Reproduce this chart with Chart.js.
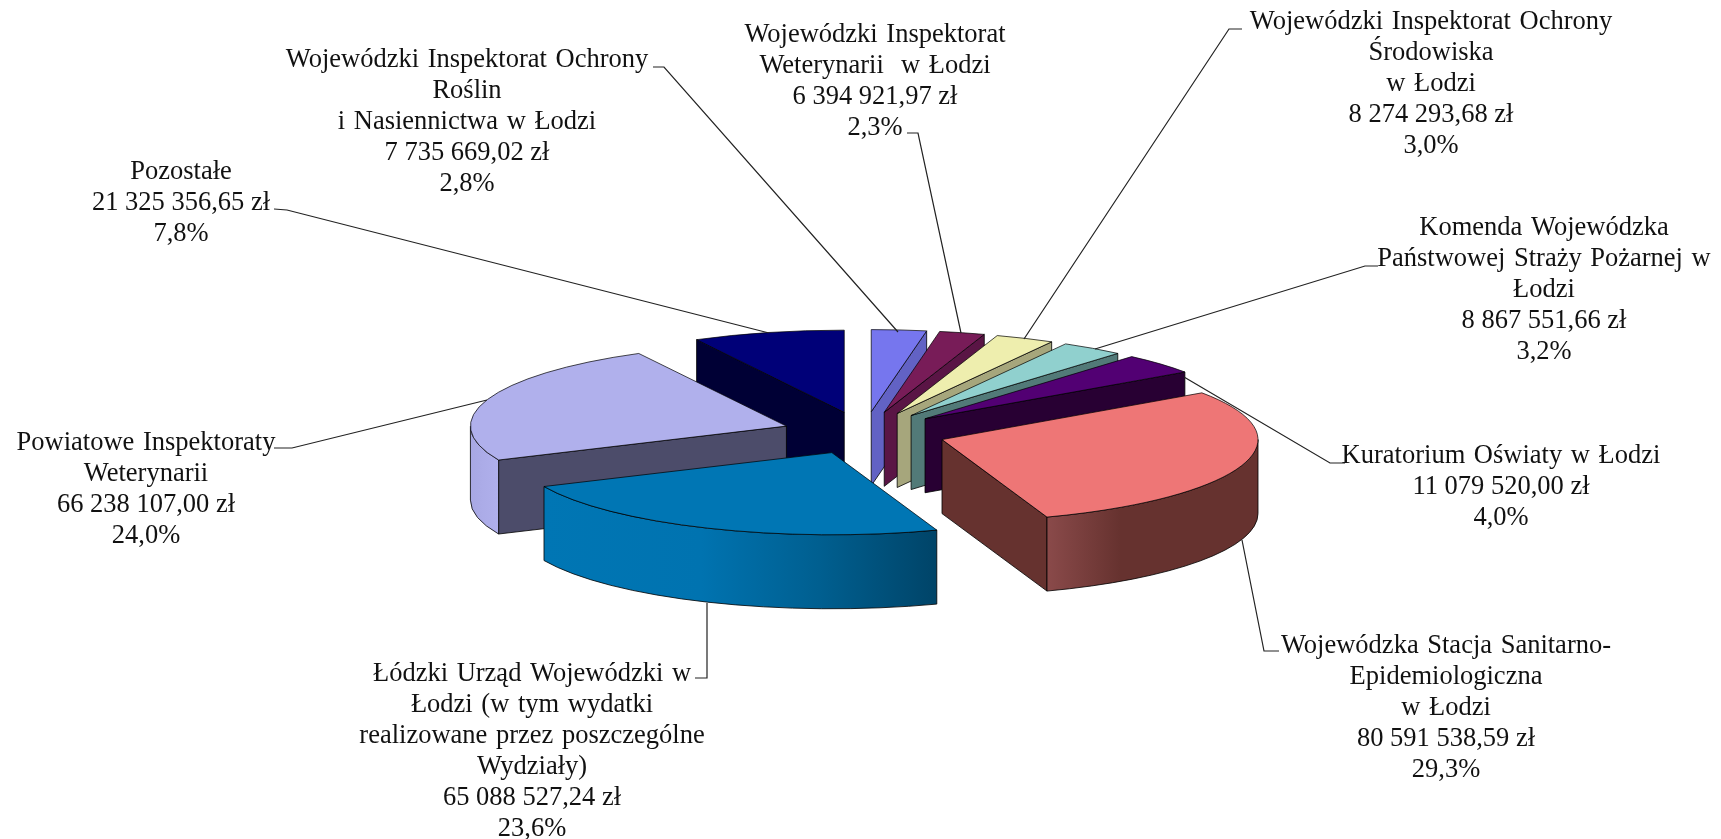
<!DOCTYPE html>
<html>
<head>
<meta charset="utf-8">
<style>
html, body { margin: 0; padding: 0; background: #fff; }
canvas { display: block; }
</style>
<script src="https://cdn.jsdelivr.net/npm/chart.js@4/dist/chart.umd.min.js"></script>
</head>
<body>
<canvas id="myChart" width="1721" height="839"></canvas>
<script>
var categories = [
    ['Wojewódzki Inspektorat Ochrony', 'Roślin', 'i Nasiennictwa w Łodzi'],
    ['Wojewódzki Inspektorat', 'Weterynarii  w Łodzi'],
    ['Wojewódzki Inspektorat Ochrony', 'Środowiska', 'w Łodzi'],
    ['Komenda Wojewódzka', 'Państwowej Straży Pożarnej w', 'Łodzi'],
    ['Kuratorium Oświaty w Łodzi'],
    ['Wojewódzka Stacja Sanitarno-', 'Epidemiologiczna', 'w Łodzi'],
    ['Łódzki Urząd Wojewódzki w', 'Łodzi (w tym wydatki', 'realizowane przez poszczególne', 'Wydziały)'],
    ['Powiatowe Inspektoraty', 'Weterynarii'],
    ['Pozostałe']
];
var wartosci = [7735669.02, 6394921.97, 8274293.68, 8867551.66, 11079520.00, 80591538.59, 65088527.24, 66238107.00, 21325356.65];
var procenty = ['2,8%', '2,3%', '3,0%', '3,2%', '4,0%', '29,3%', '23,6%', '24,0%', '7,8%'];

var kolory = ['#7676ee', '#781c58', '#eeeeae', '#90d0ce', '#520073', '#ee7676', '#0076b4', '#b0b0ec', '#000078'];
var kolorySciany = ['#6262c4', '#5a1545', '#a6a67c', '#527a78', '#280033', '#66322f', '#004a70', '#4c4c6a', '#000035'];
// gradient of the curved wall, only the big slices have one
var gradienty = {
    5: [[0, '#8a4a4a'], [0.35, '#66322f'], [1, '#66322f']],
    6: [[0, '#0076b4'], [0.4, '#0073b0'], [0.7, '#005f90'], [1, '#004468']],
    7: [[0, '#a8a8e4'], [1, '#b0b0ec']]
};

// where the labels sit: centre x, y of the first line, and the leader line
var etykietyX = [467, 875, 1431, 1544, 1501, 1446, 532, 146, 181];
var etykietyY = [60, 35, 22, 228, 456, 646, 674, 443, 172];
var linie = [
    [[653, 67], [664, 67], [898, 332]],
    [[907, 133], [918, 133], [961, 333]],
    [[1242, 29], [1229, 29], [1024, 339]],
    [[1378, 266], [1365, 266], [1095, 349]],
    [[1345, 463], [1330, 463], [1184, 377]],
    [[1279, 651], [1264, 651], [1242, 540]],
    [[695, 678], [707, 678], [707, 603]],
    [[274, 448], [292, 448], [487, 400]],
    [[274, 209], [287, 210], [769, 333]]
];

var srodekX = 864;
var srodekY = 433;
var promien = 316;
var wybuch = 82;   // how far each slice is pulled out
var splaszcz = 0.26;
var wysokosc = 74;
var kolejnosc = [8, 0, 1, 2, 3, 4, 5, 7, 6]; // back slices first

function formatuj(v) {
    var s = v.toFixed(2).split('.');
    return s[0].replace(/\B(?=(\d{3})+(?!\d))/g, ' ') + ',' + s[1] + ' zł';
}

function sciana(ctx, ax, ay, kat) {
    var x = ax + promien * Math.cos(kat);
    var y = ay + promien * Math.sin(kat) * splaszcz;
    ctx.beginPath();
    ctx.moveTo(ax, ay);
    ctx.lineTo(x, y);
    ctx.lineTo(x, y + wysokosc);
    ctx.lineTo(ax, ay + wysokosc);
    ctx.closePath();
    ctx.fill();
    ctx.stroke();
}

function rysujPlaster(ctx, arc, i) {
    var a0 = arc.startAngle;
    var a1 = arc.endAngle;
    var mid = (a0 + a1) / 2;
    var ax = srodekX + wybuch * Math.cos(mid);
    var ay = srodekY + wybuch * Math.sin(mid) * splaszcz;

    ctx.save();
    ctx.lineWidth = 1;
    ctx.strokeStyle = 'rgba(0,0,0,0.8)';
    ctx.fillStyle = kolorySciany[i];
    if (Math.cos(a0) < 0) sciana(ctx, ax, ay, a0);
    if (Math.cos(a1) > 0) sciana(ctx, ax, ay, a1);

    // curved outer wall, front half of the ellipse only
    var s = Math.max(a0, 0);
    var e = Math.min(a1, Math.PI);
    if (e > s) {
        var x0 = ax + promien * Math.cos(e);
        var x1 = ax + promien * Math.cos(s);
        if (gradienty[i]) {
            var g = ctx.createLinearGradient(x0, 0, x1, 0);
            gradienty[i].forEach(function (st) { g.addColorStop(st[0], st[1]); });
            ctx.fillStyle = g;
        }
        ctx.beginPath();
        ctx.ellipse(ax, ay, promien, promien * splaszcz, 0, s, e);
        ctx.ellipse(ax, ay + wysokosc, promien, promien * splaszcz, 0, e, s, true);
        ctx.closePath();
        ctx.fill();
        ctx.stroke();
    }
    ctx.restore();

    // top of the slice, drawn by the library's arc element
    ctx.save();
    ctx.translate(ax, ay);
    ctx.scale(1, splaszcz);
    ctx.translate(-arc.x, -arc.y);
    arc.draw(ctx);
    ctx.restore();

    // outline with an unscaled pen
    ctx.save();
    ctx.beginPath();
    ctx.moveTo(ax, ay);
    ctx.ellipse(ax, ay, promien, promien * splaszcz, 0, a0, a1);
    ctx.closePath();
    ctx.lineWidth = 1;
    ctx.strokeStyle = 'rgba(0,0,0,0.7)';
    ctx.stroke();
    ctx.restore();
}

var plasterki3d = {
    id: 'plasterki3d',
    beforeDatasetDraw: function (chart, args) {
        var ctx = chart.ctx;
        kolejnosc.forEach(function (i) {
            rysujPlaster(ctx, args.meta.data[i], i);
        });
        return false;
    }
};

var opisy = {
    id: 'opisy',
    afterDraw: function (chart) {
        var ctx = chart.ctx;
        ctx.save();
        ctx.strokeStyle = '#222';
        ctx.lineWidth = 1.2;
        linie.forEach(function (l) {
            ctx.beginPath();
            ctx.moveTo(l[0][0], l[0][1]);
            ctx.lineTo(l[1][0], l[1][1]);
            ctx.lineTo(l[2][0], l[2][1]);
            ctx.stroke();
        });
        ctx.fillStyle = '#111';
        ctx.font = '26.5px "Liberation Serif"';
        ctx.textAlign = 'center';
        ctx.textBaseline = 'middle';
        categories.forEach(function (nazwa, i) {
            var y = etykietyY[i];
            ctx.wordSpacing = '2px';
            nazwa.forEach(function (w, j) {
                ctx.fillText(w, etykietyX[i], y + j * 31);
            });
            ctx.wordSpacing = '0px';
            ctx.fillText(formatuj(wartosci[i]), etykietyX[i], y + nazwa.length * 31);
            ctx.fillText(procenty[i], etykietyX[i], y + (nazwa.length + 1) * 31);
        });
        ctx.restore();
    }
};

var myChart = new Chart(document.getElementById('myChart'), {
    type: 'pie',
    data: {
        labels: categories.map(function (c) { return c.join(' '); }),
        datasets: [{
            data: wartosci,
            backgroundColor: kolory,
            borderWidth: 0,
            clip: false
        }]
    },
    options: {
        responsive: false,
        animation: false,
        rotation: 0,
        radius: promien,
        layout: { padding: 0 },
        plugins: {
            legend: { display: false },
            tooltip: { enabled: false }
        }
    },
    plugins: [plasterki3d, opisy]
});
</script>
</body>
</html>
